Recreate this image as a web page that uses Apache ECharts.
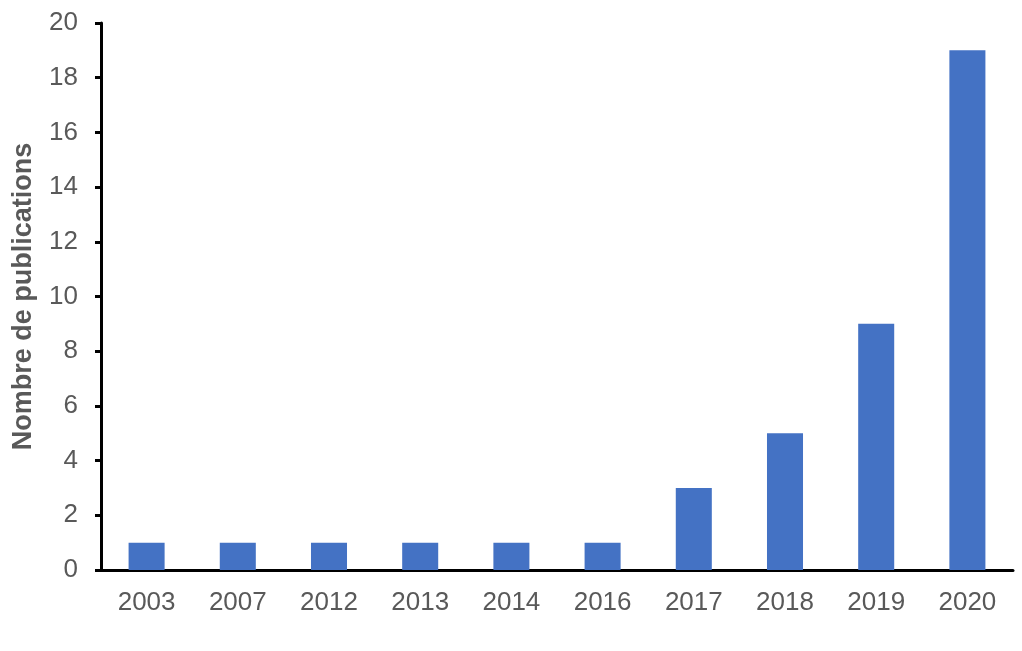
<!DOCTYPE html>
<html><head><meta charset="utf-8">
<script src="https://cdn.jsdelivr.net/npm/echarts@6/dist/echarts.min.js"></script>
<style>html,body{margin:0;padding:0;background:#fff}#c{width:1022px;height:651px}</style>
</head><body><div id="c"></div>
<script>
const categories = ['2003','2007','2012','2013','2014','2016','2017','2018','2019','2020'];
const publications = [1,1,1,1,1,1,3,5,9,19];
const yTicks = {min:0, max:20, interval:2};
const yTitle = 'Nombre de publications';

const chart = echarts.init(document.getElementById('c'), null, {renderer:'canvas'});
chart.setOption({
  animation:false,
  backgroundColor:'#fff',
  grid:{left:101, right:9, top:23, bottom:81, containLabel:false, outerBoundsMode:'none'},
  xAxis:{
    type:'category', data:categories,
    axisLine:{lineStyle:{color:'#000', width:3}},
    axisTick:{show:false},
    axisLabel:{color:'#595959', fontSize:26, fontFamily:'Liberation Sans, Arial, sans-serif', margin:20}
  },
  yAxis:{
    type:'value', min:yTicks.min, max:yTicks.max, interval:yTicks.interval,
    name:yTitle, nameLocation:'middle', nameGap:64,
    nameTextStyle:{color:'#595959', fontSize:27, fontWeight:'bold', fontFamily:'Liberation Sans, Arial, sans-serif'},
    axisLine:{show:true, lineStyle:{color:'#000', width:3}},
    axisTick:{show:true, length:6, lineStyle:{color:'#000', width:3}},
    splitLine:{show:false},
    axisLabel:{color:'#595959', fontSize:26, fontFamily:'Liberation Sans, Arial, sans-serif', margin:23}
  },
  series:[{
    type:'bar', data:publications, barWidth:'39.5%',
    itemStyle:{color:'#4472C4'}
  }]
});
</script></body></html>
